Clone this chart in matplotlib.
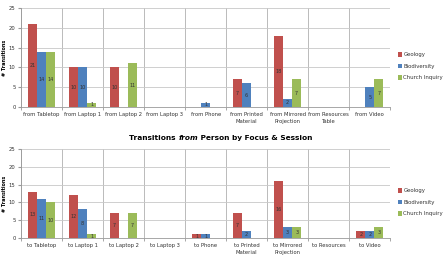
import matplotlib.pyplot as plt
import numpy as np

series = ["Geology", "Biodiversity", "Church Inquiry"]
colors = ["#C0504D", "#4F81BD", "#9BBB59"]

from_labels = ["from Tabletop", "from Laptop 1", "from Laptop 2", "from Laptop 3", "from Phone",
               "from Printed\nMaterial", "from Mirrored\nProjection", "from Resources\nTable", "from Video"]
from_geology = [21, 10, 10, 0, 0, 7, 18, 0, 0]
from_biodiversity = [14, 10, 0, 0, 1, 6, 2, 0, 5]
from_church = [14, 1, 11, 0, 0, 0, 7, 0, 7]

to_labels = ["to Tabletop", "to Laptop 1", "to Laptop 2", "to Laptop 3", "to Phone",
             "to Printed\nMaterial", "to Mirrored\nProjection", "to Resources", "to Video"]
to_geology = [13, 12, 7, 0, 1, 7, 16, 0, 2]
to_biodiversity = [11, 8, 0, 0, 1, 2, 3, 0, 2]
to_church = [10, 1, 7, 0, 0, 0, 3, 0, 3]

fig = plt.figure(figsize=(4.48, 2.62), dpi=100)
ax1 = fig.add_axes([0.047, 0.592, 0.824, 0.377])
ax2 = fig.add_axes([0.047, 0.092, 0.824, 0.339])


def draw(ax, labels, data, legend_y):
    x = np.arange(len(labels))
    w = 0.22
    for i, (vals, c) in enumerate(zip(data, colors)):
        bars = ax.bar(x + (i - 1) * w, vals, w, color=c, label=series[i], zorder=3)
        for b, v in zip(bars, vals):
            if v:
                ax.text(b.get_x() + b.get_width() / 2, v / 2, str(v), ha="center", va="center",
                        fontsize=3.5, color="#333333", zorder=4)
    ax.set_xlim(-0.5, len(labels) - 0.5)
    ax.set_ylim(0, 25)
    ax.set_yticks(range(0, 26, 5))
    ax.set_xticks(x)
    ax.set_xticklabels(labels, fontsize=3.8, color="#333333", linespacing=1.4)
    ax.set_xticks(np.arange(len(labels) + 1) - 0.5, minor=True)
    ax.tick_params(axis="x", which="major", length=0, pad=4)
    ax.tick_params(axis="x", which="minor", length=2, color="#999999")
    ax.tick_params(axis="y", labelsize=3.8, length=2, color="#999999", labelcolor="#333333", pad=2)
    ax.grid(axis="y", color="#c8c8c8", linewidth=0.6, zorder=0)
    ax.grid(axis="x", which="minor", color="#b0b0b0", linewidth=0.6, zorder=0)
    for s in ["top", "right"]:
        ax.spines[s].set_visible(False)
    for s in ["left", "bottom"]:
        ax.spines[s].set_color("#999999")
        ax.spines[s].set_linewidth(0.6)
    ax.set_ylabel("# Transitions", fontsize=3.5, fontweight="bold", labelpad=1)
    ax.legend(loc="center left", bbox_to_anchor=(1.015, legend_y), fontsize=3.9, frameon=False,
              handlelength=0.8, handleheight=0.8, handletextpad=0.2, labelspacing=1.2,
              labelcolor="#333333", borderaxespad=0)


draw(ax1, from_labels, [from_geology, from_biodiversity, from_church], 0.41)
draw(ax2, to_labels, [to_geology, to_biodiversity, to_church], 0.40)

# title with the italic word, laid out piece by piece
parts = [("Transitions ", "normal"), ("from", "italic"), (" Person by Focus & Session", "normal")]
renderer = fig.canvas.get_renderer()
texts = []
for s, st in parts:
    t = fig.text(0, 0.475, s, fontsize=5.3, fontweight="bold", style=st, ha="left", va="center")
    texts.append(t)
widths = [t.get_window_extent(renderer).width for t in texts]
x0 = 221 - sum(widths) / 2
for t, wd in zip(texts, widths):
    t.set_x(x0 / 448)
    x0 += wd

fig.savefig("out.png", dpi=100)
